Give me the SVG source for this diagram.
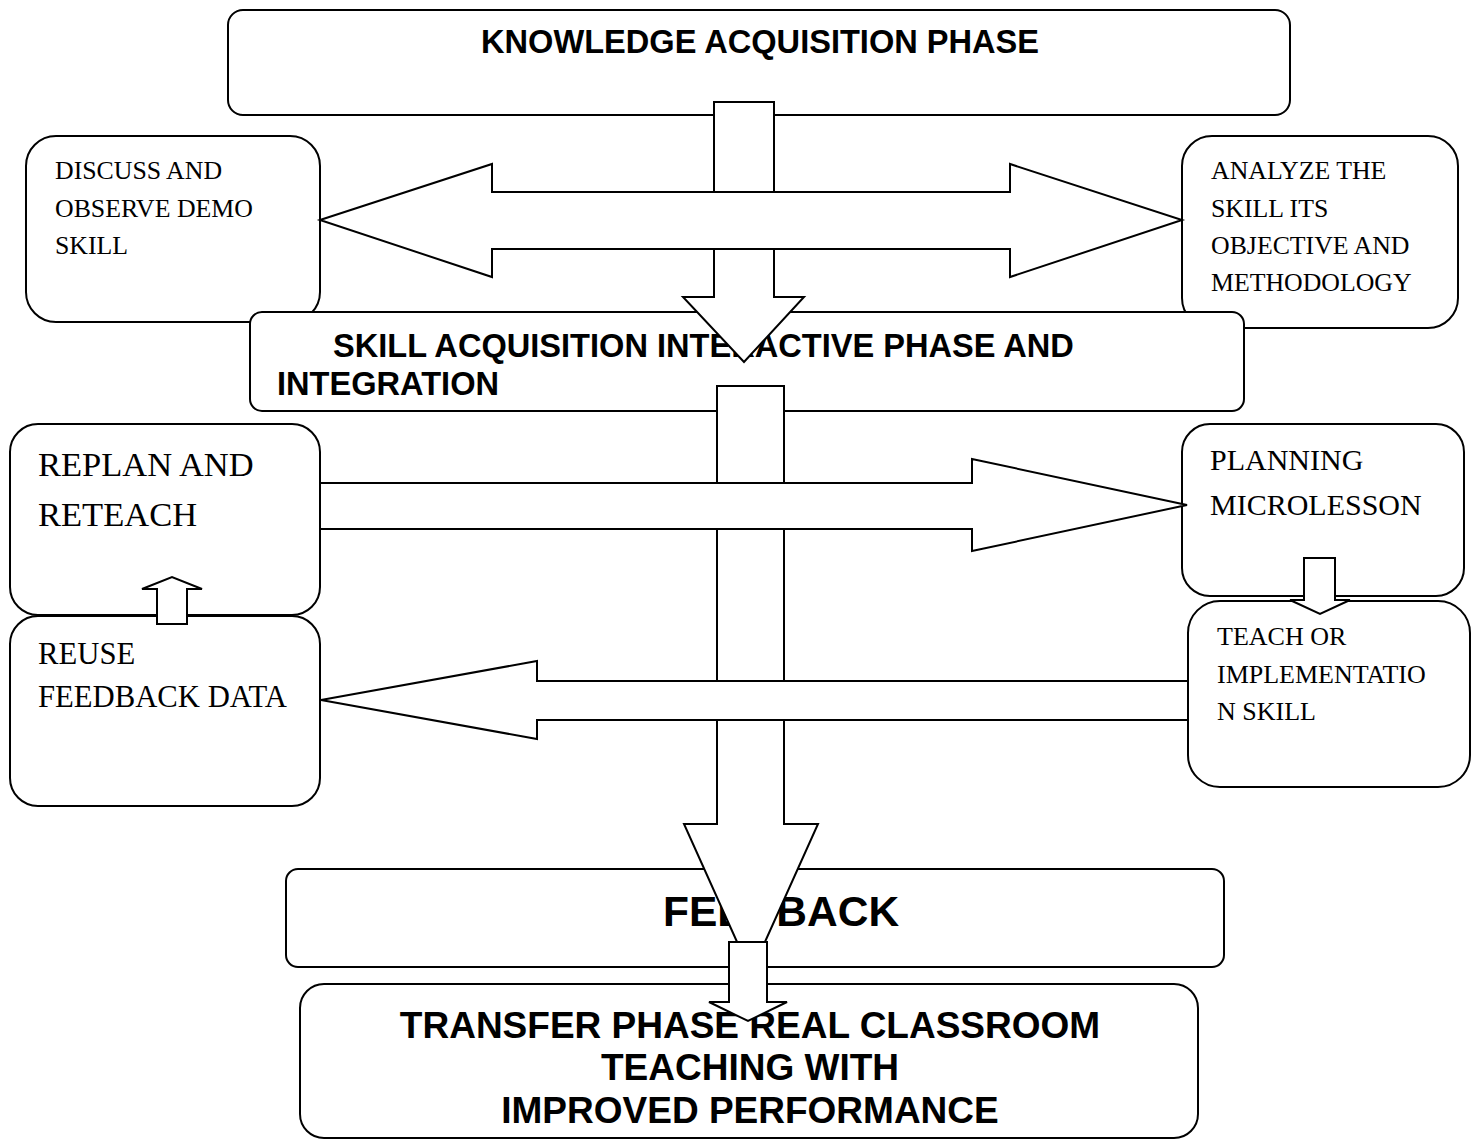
<svg xmlns="http://www.w3.org/2000/svg" width="1476" height="1140" viewBox="0 0 1476 1140">
<style>
.box{fill:#fff;stroke:#000;stroke-width:2}
.arr{fill:#fff;stroke:#000;stroke-width:2;stroke-linejoin:miter}
.hs{font-family:"Liberation Sans",Arial,sans-serif;font-weight:bold;fill:#000}
.sf{font-family:"Liberation Serif","Times New Roman",serif;fill:#000}
</style>
<rect width="1476" height="1140" fill="#fff"/>
<g id="node-discuss">
<rect class="box" x="26" y="136" width="294" height="186" rx="30"/>
<text class="sf" font-size="25.8" x="55" y="179">DISCUSS AND</text>
<text class="sf" font-size="25.8" x="55" y="217">OBSERVE DEMO</text>
<text class="sf" font-size="25.8" x="55" y="254">SKILL</text>
</g>
<g id="node-analyze">
<rect class="box" x="1182" y="136" width="276" height="192" rx="30"/>
<text class="sf" font-size="25.8" x="1211" y="179">ANALYZE THE</text>
<text class="sf" font-size="25.8" x="1211" y="217">SKILL ITS</text>
<text class="sf" font-size="25.8" x="1211" y="254">OBJECTIVE AND</text>
<text class="sf" font-size="25.8" x="1211" y="291">METHODOLOGY</text>
</g>
<g id="node-knowledge">
<rect class="box" x="228" y="10" width="1062" height="105" rx="15"/>
<text class="hs" font-size="32.6" x="481" y="53">KNOWLEDGE ACQUISITION PHASE</text>
</g>
<g id="node-skill">
<rect class="box" x="250" y="312" width="994" height="99" rx="12"/>
<text class="hs" font-size="32.6" x="333" y="357">SKILL ACQUISITION INTERACTIVE PHASE AND</text>
<text class="hs" font-size="32.6" x="277" y="395">INTEGRATION</text>
</g>
<g id="node-replan">
<rect class="box" x="10" y="424" width="310" height="191" rx="28"/>
<text class="sf" font-size="34.5" x="38" y="476">REPLAN AND</text>
<text class="sf" font-size="34.5" x="38" y="526">RETEACH</text>
</g>
<g id="node-reuse">
<rect class="box" x="10" y="616" width="310" height="190" rx="28"/>
<text class="sf" font-size="30.7" x="38" y="664">REUSE</text>
<text class="sf" font-size="30.7" x="38" y="707">FEEDBACK DATA</text>
</g>
<g id="node-planning">
<rect class="box" x="1182" y="424" width="282" height="172" rx="28"/>
<text class="sf" font-size="30" x="1210" y="470">PLANNING</text>
<text class="sf" font-size="30" x="1210" y="515">MICROLESSON</text>
</g>
<g id="node-teach">
<rect class="box" x="1188" y="601" width="282" height="186" rx="32"/>
<text class="sf" font-size="26" x="1217" y="645">TEACH OR</text>
<text class="sf" font-size="26" x="1217" y="683">IMPLEMENTATIO</text>
<text class="sf" font-size="26" x="1217" y="720">N SKILL</text>
</g>
<g id="node-feedback">
<rect class="box" x="286" y="869" width="938" height="98" rx="12"/>
<text class="hs" font-size="42.5" x="663" y="926">FEEDBACK</text>
</g>
<g id="node-transfer">
<rect class="box" x="300" y="984" width="898" height="154" rx="24"/>
<text class="hs" font-size="37" x="750" y="1038" text-anchor="middle">TRANSFER PHASE REAL CLASSROOM</text>
<text class="hs" font-size="37" x="750" y="1080" text-anchor="middle">TEACHING WITH</text>
<text class="hs" font-size="37" x="750" y="1123" text-anchor="middle">IMPROVED PERFORMANCE</text>
</g>
<g id="connectors">
<polygon class="arr" points="714,102 774,102 774,297 804,297 744,362 683,297 714,297"/>
<polygon class="arr" points="320,220 492,164 492,192 1010,192 1010,164 1182,220 1010,277 1010,249 492,249 492,277"/>
<polygon class="arr" points="717,386 784,386 784,824 818,824 751,973 684,824 717,824"/>
<polygon class="arr" points="320,483 972,483 972,459 1187,505 972,551 972,529 320,529"/>
<polygon class="arr" points="1188,681 537,681 537,661 321,700 537,739 537,720 1188,720"/>
<polygon class="arr" points="729,942 767,942 767,1002 787,1002 748,1021 709,1002 729,1002"/>
<polygon class="arr" points="157,624 187,624 187,589 202,589 172,577 142,589 157,589"/>
<polygon class="arr" points="1304,558 1335,558 1335,600 1350,600 1320,614 1290,600 1304,600"/>
</g>
</svg>
